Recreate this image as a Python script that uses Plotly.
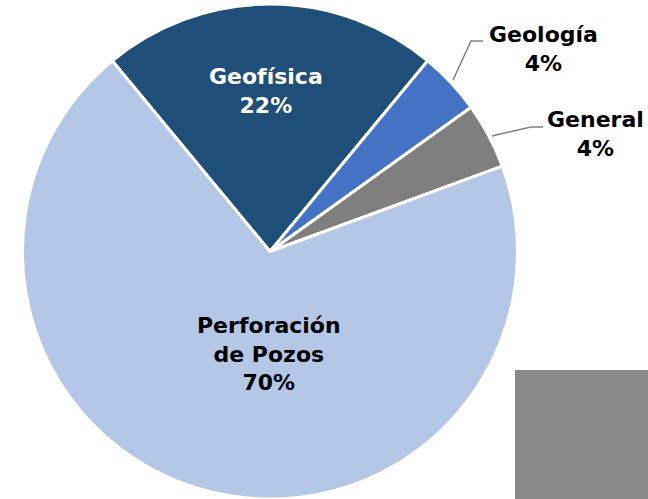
import plotly.graph_objects as go

W, H = 648, 499

categories = ["Geofísica", "Geología", "General", "Perforación de Pozos"]
values = [22.0, 4.1, 4.3, 69.6]
colors = ["#1F4E79", "#4472C4", "#7F7F7F", "#B4C7E7"]
label_texts = ["Geofísica<br>22%", "Geología<br>4%", "General<br>4%", "Perforación<br>de Pozos<br>70%"]
label_colors = ["#FFFFFF", "#000000", "#000000", "#000000"]
# label centres in pixels (x, y of middle of block)
label_pos = [(266, 91), (543, 49), (595, 134), (269, 354)]

def px(x, y):
    return x / W, 1 - y / H

fig = go.Figure(go.Pie(
    labels=categories,
    values=values,
    sort=False,
    direction="clockwise",
    rotation=-39.6,
    marker=dict(colors=colors, line=dict(color="#FFFFFF", width=3)),
    textinfo="none",
    hoverinfo="label+percent",
    domain=dict(x=[22 / W, 518 / W], y=[0, 1 - 4 / H]),
    showlegend=False,
))

for txt, col, (x, y) in zip(label_texts, label_colors, label_pos):
    ax, ay = px(x, y)
    fig.add_annotation(
        x=ax, y=ay, xref="paper", yref="paper", text=txt, showarrow=False,
        xanchor="center", yanchor="middle", align="center",
        font=dict(family="DejaVu Sans", size=22, color=col, weight="bold"),
    )

# leader lines
leaders = [
    [(453, 80), (471, 41), (483, 41)],
    [(492, 136), (531, 127), (543, 127)],
]
for pts in leaders:
    path = "M " + " L ".join(f"{px(x, y)[0]},{px(x, y)[1]}" for x, y in pts)
    fig.add_shape(type="path", path=path, xref="paper", yref="paper",
                  line=dict(color="#808080", width=1.5))

# grey block in lower right
x0, y0 = px(515, 370)
x1, y1 = px(648, 499)
fig.add_shape(type="rect", xref="paper", yref="paper", x0=x0, y0=y1, x1=x1, y1=y0,
              fillcolor="#898987", line=dict(width=0), layer="above")

fig.update_layout(
    width=W, height=H,
    margin=dict(l=0, r=0, t=0, b=0),
    paper_bgcolor="#FFFFFF",
    plot_bgcolor="#FFFFFF",
)

fig.write_html(
    "out.html",
    config={"displayModeBar": False},
    post_script="document.body.style.margin='0px';document.body.style.overflow='hidden';",
)
